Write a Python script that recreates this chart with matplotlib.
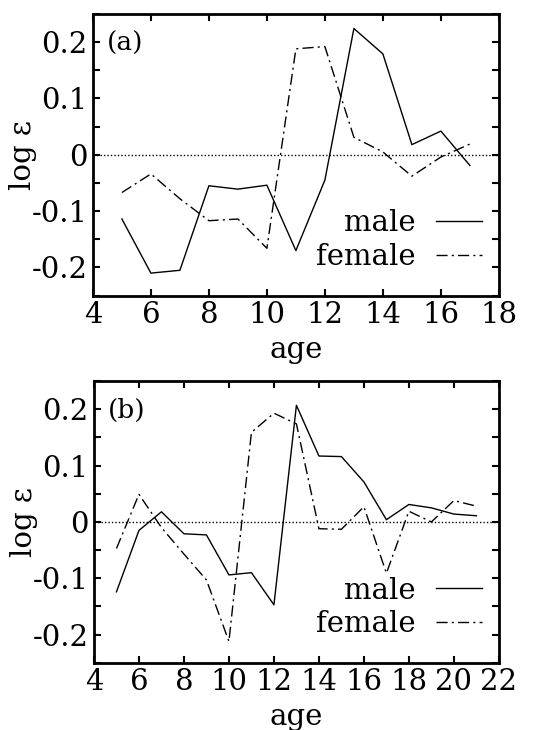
import matplotlib
matplotlib.use("Agg")
import matplotlib.pyplot as plt
from matplotlib.ticker import MultipleLocator, FuncFormatter

# panel (a)
age_a = [5, 6, 7, 8, 9, 10, 11, 12, 13, 14, 15, 16, 17]
male_a = [-0.114, -0.210, -0.205, -0.055, -0.061, -0.054, -0.170,
          -0.045, 0.224, 0.179, 0.018, 0.042, -0.019]
female_a = [-0.067, -0.034, -0.078, -0.117, -0.114, -0.166, 0.188,
            0.192, 0.031, 0.005, -0.038, -0.004, 0.019]

# panel (b)
age_b = [5, 6, 7, 8, 9, 10, 11, 12, 13, 14, 15, 16, 17, 18, 19, 20, 21]
male_b = [-0.124, -0.015, 0.018, -0.021, -0.023, -0.094, -0.090, -0.147,
          0.207, 0.117, 0.116, 0.071, 0.004, 0.031, 0.025, 0.014, 0.011]
female_b = [-0.047, 0.049, -0.010, -0.057, -0.103, -0.212, 0.159, 0.193,
            0.174, -0.012, -0.013, 0.027, -0.091, 0.019, 0.000, 0.038, 0.028]

plt.rcParams["font.family"] = ["DejaVu Serif"]
plt.rcParams["axes.unicode_minus"] = False

FS = 21


def ytick_fmt(v, pos):
    # labels only every 0.1, ticks every 0.05
    if abs(round(v / 0.1) * 0.1 - v) > 1e-6:
        return ""
    if abs(v) < 1e-9:
        return "0"
    return f"{v:.1f}"


def draw_panel(ax, ages, male, female, xmax, tag):
    ax.axhline(0, color="black", lw=1, ls=(0, (1, 1.5)))
    ax.plot(ages, male, color="black", lw=1, label="male")
    ax.plot(ages, female, color="black", lw=1,
            ls=(0, (8, 3, 1.5, 3)), label="female")
    ax.set_xlim(4, xmax)
    ax.set_ylim(-0.25, 0.25)
    ax.xaxis.set_major_locator(MultipleLocator(2))
    ax.yaxis.set_major_locator(MultipleLocator(0.05))
    ax.yaxis.set_major_formatter(FuncFormatter(ytick_fmt))
    ax.tick_params(direction="in", top=True, right=True, length=5,
                   width=1.5, labelsize=FS, pad=4)
    for s in ax.spines.values():
        s.set_linewidth(2)
    ax.set_xlabel("age", fontsize=FS, labelpad=5)
    ax.set_ylabel("log ε", fontsize=FS)
    ax.yaxis.set_label_coords(-0.138, 0.5)
    ax.text(0.034, 0.94, tag, transform=ax.transAxes, fontsize=19,
            va="top", ha="left")
    ax.legend(loc="lower right", bbox_to_anchor=(0.995, 0.035),
              frameon=False, markerfirst=False,
              fontsize=FS, handlelength=1.6, handletextpad=0.7,
              labelspacing=0.2, borderaxespad=0.1)


fig = plt.figure(figsize=(5.37, 7.30), dpi=100)
ax1 = fig.add_axes([0.173, 0.595, 0.756, 0.386])
ax2 = fig.add_axes([0.175, 0.092, 0.754, 0.386])

draw_panel(ax1, age_a, male_a, female_a, 18, "(a)")
draw_panel(ax2, age_b, male_b, female_b, 22, "(b)")

fig.savefig("out.png", dpi=100)
